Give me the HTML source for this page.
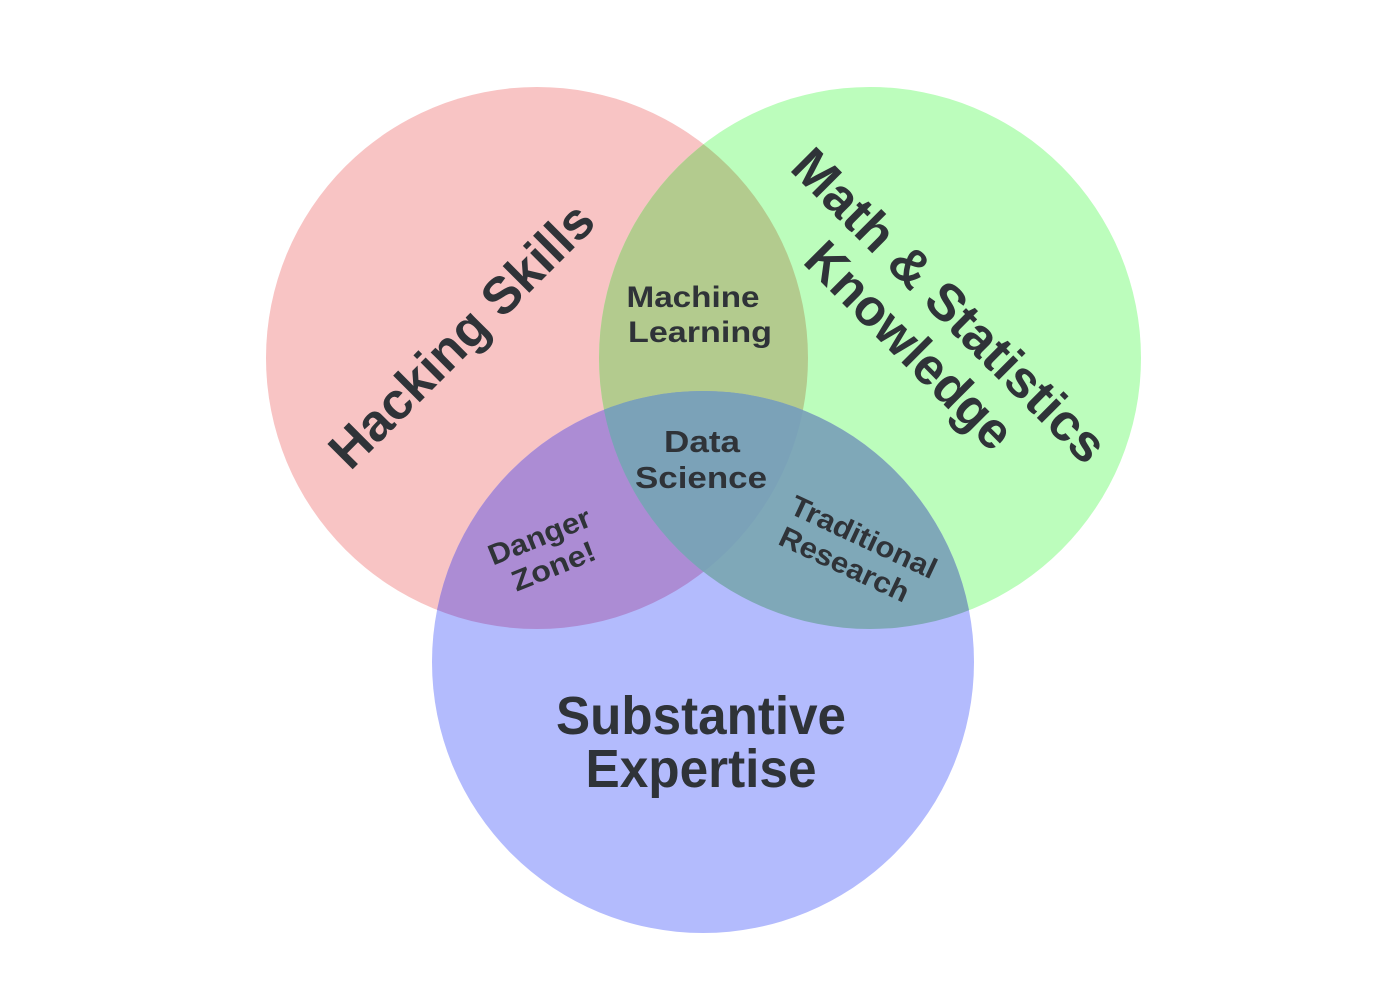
<!DOCTYPE html>
<html><head><meta charset="utf-8"><style>
html,body{margin:0;padding:0;background:#fff;}
svg{display:block;}
text{font-family:"Liberation Sans",Arial,sans-serif;font-weight:bold;fill:#2f3338;text-anchor:middle;}
</style></head><body>
<svg width="1400" height="996" viewBox="0 0 1400 996" xmlns="http://www.w3.org/2000/svg">
<defs>
<clipPath id="cr"><circle cx="537" cy="358" r="271"/></clipPath>
<clipPath id="cg"><circle cx="870" cy="358" r="271"/></clipPath>
</defs>
<rect width="1400" height="996" fill="#fff"/>
<circle cx="537" cy="358" r="271" fill="#f8c4c4"/>
<circle cx="870" cy="358" r="271" fill="#bcfdbc"/>
<circle cx="703" cy="662" r="271" fill="#b3bbfd"/>
<g clip-path="url(#cr)"><circle cx="870" cy="358" r="271" fill="#b3cb8e"/></g>
<g clip-path="url(#cr)"><circle cx="703" cy="662" r="271" fill="#ac8cd4"/></g>
<g clip-path="url(#cg)"><circle cx="703" cy="662" r="271" fill="#7fa8b8"/></g>
<g clip-path="url(#cr)"><g clip-path="url(#cg)"><circle cx="703" cy="662" r="271" fill="#7ba2b8"/></g></g>

<text x="0" y="0" font-size="52" textLength="350" lengthAdjust="spacingAndGlyphs" transform="translate(474,348) rotate(-45)">Hacking Skills</text>
<text x="0" y="0" font-size="52" textLength="420" lengthAdjust="spacingAndGlyphs" transform="translate(937,318) rotate(45)">Math &amp; Statistics</text>
<text x="0" y="0" font-size="52" textLength="270" lengthAdjust="spacingAndGlyphs" transform="translate(897,358) rotate(45)">Knowledge</text>
<text x="701" y="734" font-size="54" textLength="290" lengthAdjust="spacingAndGlyphs">Substantive</text>
<text x="701" y="787" font-size="54" textLength="231" lengthAdjust="spacingAndGlyphs">Expertise</text>
<text x="693" y="307" font-size="30" textLength="133" lengthAdjust="spacingAndGlyphs">Machine</text>
<text x="700" y="342" font-size="30" textLength="144" lengthAdjust="spacingAndGlyphs">Learning</text>
<text x="702" y="452" font-size="31" textLength="76" lengthAdjust="spacingAndGlyphs">Data</text>
<text x="701" y="488" font-size="31" textLength="132" lengthAdjust="spacingAndGlyphs">Science</text>
<g transform="translate(545,550) rotate(-22)">
<text x="0" y="-5" font-size="29" textLength="108" lengthAdjust="spacingAndGlyphs">Danger</text>
<text x="2" y="28" font-size="29" textLength="88" lengthAdjust="spacingAndGlyphs">Zone!</text>
</g>
<g transform="translate(852,548) rotate(25)">
<text x="6" y="-5" font-size="29" textLength="158" lengthAdjust="spacingAndGlyphs">Traditional</text>
<text x="0" y="28" font-size="29" textLength="140" lengthAdjust="spacingAndGlyphs">Research</text>
</g>
</svg>
</body></html>
